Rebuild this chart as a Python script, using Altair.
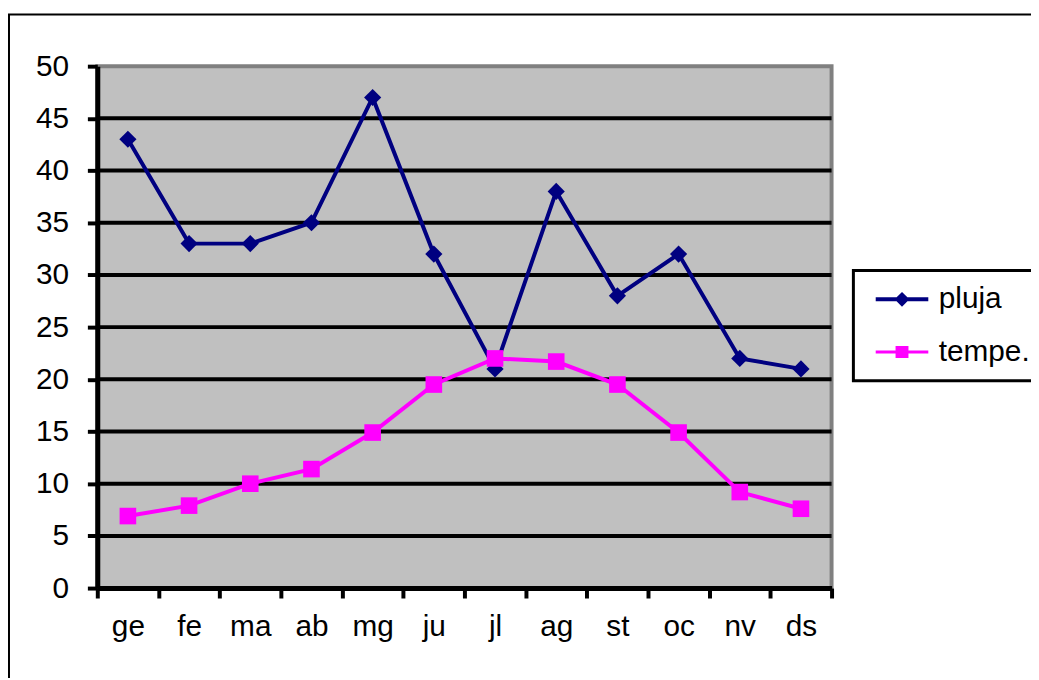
import altair as alt
import pandas as pd

months = ["ge", "fe", "ma", "ab", "mg", "ju", "jl", "ag", "st", "oc", "nv", "ds"]
pluja = [43, 33, 33, 35, 47, 32, 21, 38, 28, 32, 22, 21]
tempe = [6.9, 7.9, 10.0, 11.4, 14.9, 19.5, 22.0, 21.7, 19.5, 14.9, 9.2, 7.6]
series_names = ["pluja", "tempe."]
series_colors = ["#000080", "#FF00FF"]
y_ticks = list(range(0, 55, 5))

rows = []
for name, vals in zip(series_names, [pluja, tempe]):
    for i, (m, v) in enumerate(zip(months, vals)):
        rows.append({"month": m, "pos": i + 0.5, "series": name, "value": v})
df = pd.DataFrame(rows)
grid_df = pd.DataFrame({"tick": y_ticks[1:-1]})

FONT = "Liberation Sans"
FS = 30

months_js = "[" + ",".join("'%s'" % m for m in months) + "]"
x_axis = alt.Axis(
    values=[i * 0.5 for i in range(2 * len(months) + 1)],
    labelExpr="datum.value % 1 === 0 ? '' : " + months_js + "[floor(datum.value)]",
    tickOpacity={"condition": {"test": "datum.value % 1 === 0", "value": 1}, "value": 0},
    grid=False, domainColor="black", domainWidth=5, tickColor="black", tickWidth=4,
    tickSize=10, labelFont=FONT, labelFontSize=FS, labelColor="black", labelPadding=14,
    labelOverlap=False, labelFlush=False, title=None, zindex=2,
)
y_axis = alt.Axis(
    values=y_ticks, grid=False,
    domainColor="black", domainWidth=5, tickColor="black", tickWidth=4,
    tickSize=10, labelFont=FONT, labelFontSize=FS, labelColor="black", labelPadding=19,
    title=None, zindex=2,
)
x_scale = alt.Scale(domain=[0, len(months)], nice=False, zero=False)
y_scale = alt.Scale(domain=[0, 50], nice=False)
x_enc = alt.X("pos:Q", scale=x_scale, axis=x_axis)
y_enc = alt.Y("value:Q", scale=y_scale, axis=y_axis)
color_scale = alt.Scale(domain=series_names, range=series_colors)

base = alt.Chart(df)
one = alt.Chart(pd.DataFrame({"k": [0]}))

border = one.mark_rect(fillOpacity=0, stroke="black", strokeWidth=2).encode(
    x=alt.value(-89), x2=alt.value(960), y=alt.value(-52), y2=alt.value(650)
)
plot_bg = one.mark_rect(fill="#C0C0C0", stroke="#808080", strokeWidth=4).encode(
    x=alt.value(0), x2=alt.value("width"), y=alt.value(0), y2=alt.value("height")
)
grid = alt.Chart(grid_df).mark_rule(color="black", strokeWidth=4).encode(
    y=alt.Y("tick:Q", scale=y_scale, axis=y_axis), x=alt.value(0), x2=alt.value("width")
)

layers = [border, plot_bg, grid]
shapes = ["diamond", "square"]
sizes = [300, 280]
for name, col, shp, sz in zip(series_names, series_colors, shapes, sizes):
    sub = base.transform_filter(alt.datum.series == name)
    layers.append(sub.mark_line(strokeWidth=4, color=col).encode(x=x_enc, y=y_enc))
    layers.append(sub.mark_point(shape=shp, filled=True, size=sz, opacity=1, color=col).encode(x=x_enc, y=y_enc))

sym_paths = [
    "M-2.65,-0.2H2.65V0.2H-2.65Z M0,-0.75L0.75,0L0,0.75L-0.75,0Z",
    "M-2.65,-0.15H2.65V0.15H-2.65Z M-0.65,-0.6H0.65V0.6H-0.65Z",
]
leg = alt.Legend(
    title=None, orient="none", legendX=762, legendY=206,
    strokeColor="black", fillColor="white", padding=14,
    labelFont=FONT, labelFontSize=FS, labelColor="black",
    labelExpr="datum.label + '\u00a0\u00a0\u00a0\u00a0\u00a0\u00a0\u00a0\u00a0'",
    labelLimit=300,
    symbolSize=400, symbolOffset=20, labelOffset=22, rowPadding=23,
    symbolStrokeWidth=0, symbolOpacity=1,
)
legend_layer = base.mark_point(filled=True, opacity=1, size=400).encode(
    color=alt.Color("series:N", scale=color_scale, legend=leg),
    shape=alt.Shape("series:N", scale=alt.Scale(domain=series_names, range=sym_paths), legend=leg),
    x=alt.value(-5000), y=alt.value(-5000),
)
layers.append(legend_layer)

chart = alt.layer(*layers).properties(
    width=740, height=526,
    autosize=alt.AutoSizeParams(type="none"),
    padding={"left": 90, "top": 56, "right": 201, "bottom": 88},
    background="white",
).configure_view(stroke=None).configure_legend(strokeWidth=3)

chart.save("out.html", embed_options={"renderer": "svg", "actions": False})
